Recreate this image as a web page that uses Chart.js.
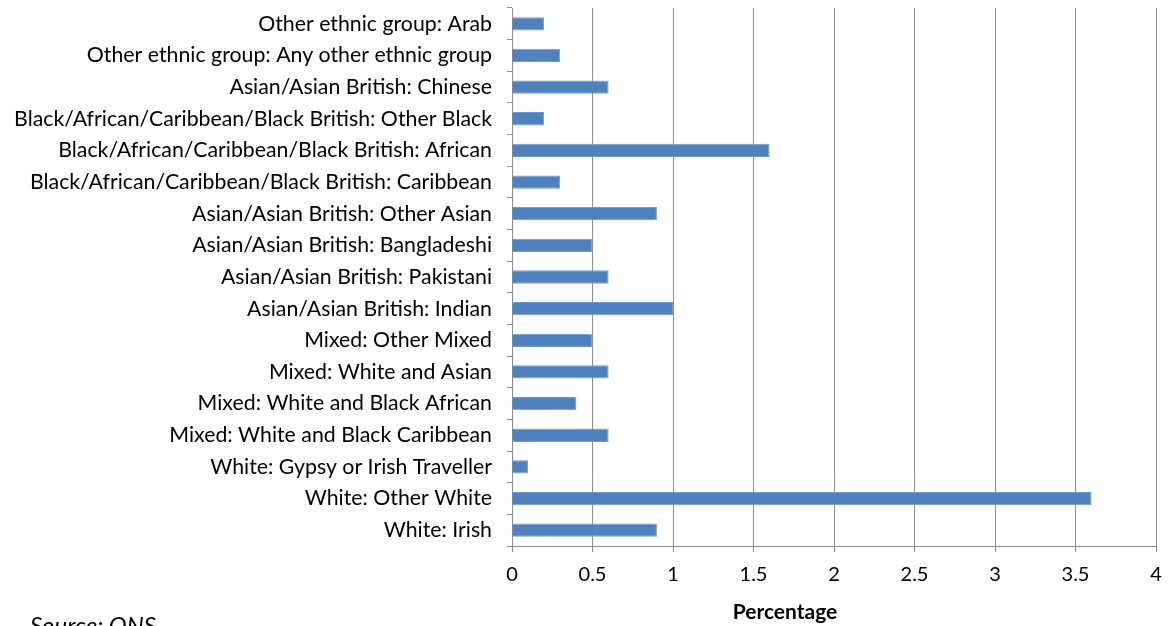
<!DOCTYPE html>
<html>
<head>
<meta charset="utf-8">
<script src="https://cdn.jsdelivr.net/npm/chart.js@4/dist/chart.umd.min.js"></script>
<style>
  html, body { margin: 0; padding: 0; background: #fff; }
  #wrap { width: 1171px; height: 626px; position: relative; }
</style>
</head>
<body>
<div id="wrap"><canvas id="c" width="1171" height="626"></canvas></div>
<script>
const categories = [
  'Other ethnic group: Arab',
  'Other ethnic group: Any other ethnic group',
  'Asian/Asian British: Chinese',
  'Black/African/Caribbean/Black British: Other Black',
  'Black/African/Caribbean/Black British: African',
  'Black/African/Caribbean/Black British: Caribbean',
  'Asian/Asian British: Other Asian',
  'Asian/Asian British: Bangladeshi',
  'Asian/Asian British: Pakistani',
  'Asian/Asian British: Indian',
  'Mixed: Other Mixed',
  'Mixed: White and Asian',
  'Mixed: White and Black African',
  'Mixed: White and Black Caribbean',
  'White: Gypsy or Irish Traveller',
  'White: Other White',
  'White: Irish'
];
const percentages = [0.2, 0.3, 0.6, 0.2, 1.6, 0.3, 0.9, 0.5, 0.6, 1.0, 0.5, 0.6, 0.4, 0.6, 0.1, 3.6, 0.9];
const xTicks = [0, 0.5, 1, 1.5, 2, 2.5, 3, 3.5, 4];

const fontFamily = 'Lato, "Open Sans", sans-serif';

// axis title (Excel centres it on the whole chart, not the plot) and the source note
const extraText = {
  id: 'extraText',
  afterDraw(chart) {
    const ctx = chart.ctx;
    ctx.save();
    ctx.fillStyle = '#000';
    ctx.textBaseline = 'alphabetic';
    ctx.textAlign = 'center';
    ctx.font = 'bold 21px ' + fontFamily;
    ctx.fillText('Percentage', 785, 619);
    ctx.textAlign = 'left';
    ctx.font = 'italic 24px ' + fontFamily;
    ctx.fillText('Source: ONS', 30, 634);
    ctx.restore();
  }
};

new Chart(document.getElementById('c'), {
  type: 'bar',
  data: {
    labels: categories,
    datasets: [{
      data: percentages,
      backgroundColor: '#4F81BD',
      borderColor: '#6F9BD0',
      borderWidth: 1,
      barPercentage: 0.42,
      categoryPercentage: 1.0
    }]
  },
  options: {
    indexAxis: 'y',
    responsive: false,
    animation: false,
    layout: { padding: { top: 8, right: 15, left: 0, bottom: 0 } },
    plugins: {
      legend: { display: false },
      tooltip: { enabled: false }
    },
    scales: {
      x: {
        min: 0,
        max: 4,
        afterBuildTicks: s => { s.ticks = xTicks.map(v => ({ value: v })); },
        afterFit: s => { s.height = 80; s.paddingLeft = 0; s.paddingRight = 0; },
        grid: { color: '#8c8c8c', lineWidth: 1, tickLength: 6 },
        border: { color: '#8c8c8c' },
        ticks: {
          color: '#000',
          font: { family: fontFamily, size: 20 },
          padding: 11,
          callback: v => String(v)
        }
      },
      y: {
        afterFit: s => { s.width = 512; s.paddingTop = 0; s.paddingBottom = 0; },
        grid: { drawOnChartArea: false, color: '#8c8c8c', tickLength: 5, offset: true },
        border: { color: '#8c8c8c' },
        ticks: {
          color: '#000',
          font: { family: fontFamily, size: 21.3 },
          padding: 15,
          autoSkip: false
        }
      }
    }
  },
  plugins: [extraText]
});
</script>
</body>
</html>
